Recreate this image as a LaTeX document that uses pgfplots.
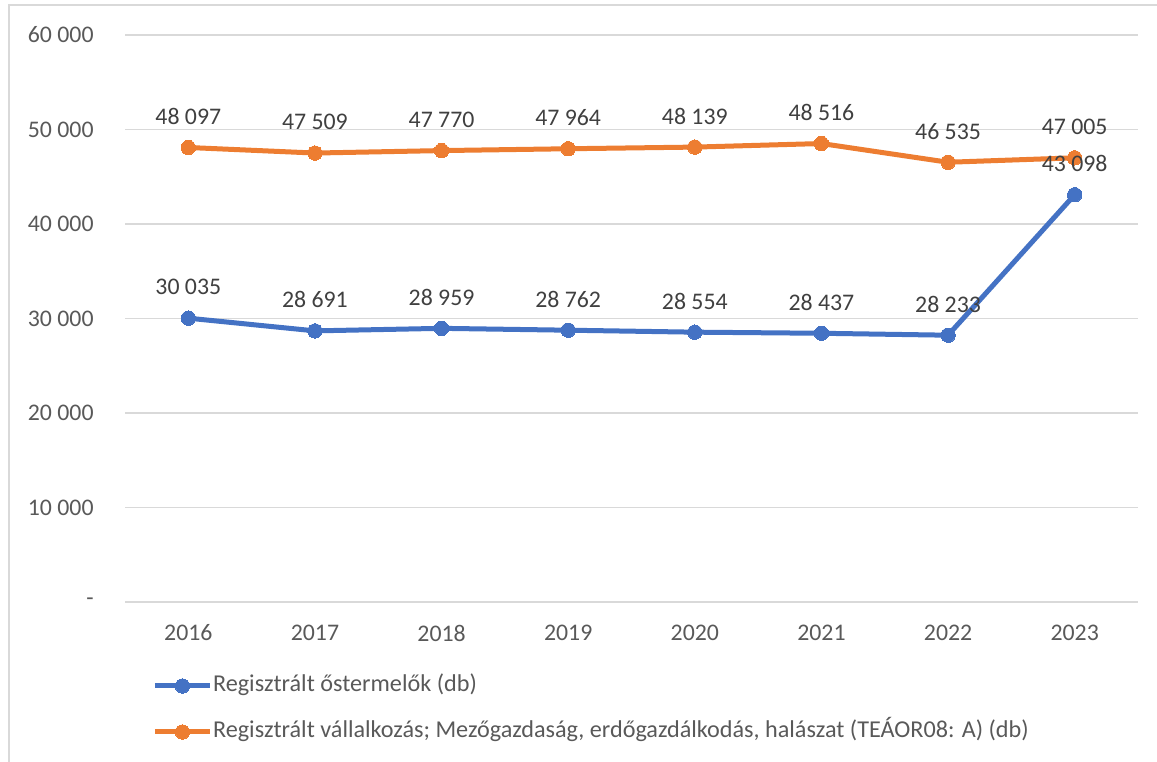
\documentclass[border=0pt]{standalone}
\usepackage{fontspec}
\setmainfont{Carlito}
\usepackage{pgfplots}
\usepackage{pgfplotstable}
\pgfplotsset{compat=1.18}
\definecolor{serblue}{HTML}{4472C4}
\definecolor{serorange}{HTML}{ED7D31}
\definecolor{gridgray}{HTML}{D9D9D9}
\definecolor{labgray}{HTML}{595959}
\definecolor{datgray}{HTML}{404040}

% year index, registered primary producers, registered agricultural enterprises
\pgfplotstableread{
x ost vall
0 30035 48097
1 28691 47509
2 28959 47770
3 28762 47964
4 28554 48139
5 28437 48516
6 28233 46535
7 43098 47005
}\data

\newcommand{\chartfont}{\fontsize{11.9}{14.3}\selectfont}
\newcommand{\legfont}{\fontsize{12.1}{14.5}\selectfont}

\begin{document}
\begin{tikzpicture}
\useasboundingbox (0,0) rectangle (578.5pt,380.5pt);
\draw[gridgray, line width=0.75pt] (4.5pt,-10pt) -- (4.5pt,378pt) -- (600pt,378pt);
\begin{axis}[
    at={(62.5pt,79.5pt)}, anchor=south west,
    scale only axis, width=506.5pt, height=283.5pt,
    xmin=-0.5, xmax=7.5, ymin=0, ymax=60000,
    xtick={0,...,7}, xticklabels={2016,2017,2018,2019,2020,2021,2022,2023},
    ytick={0,10000,...,60000},
    yticklabels={{-\hspace{5pt}},{10 000},{20 000},{30 000},{40 000},{50 000},{60 000}},
    scaled y ticks=false,
    axis line style={draw=none},
    major tick length=0pt,
    ymajorgrids, grid style={gridgray, line width=0.75pt},
    tick label style={font=\chartfont, text=labgray, inner sep=0pt},
    xticklabel style={anchor=center, yshift=-15.5pt},
    yticklabel style={anchor=east, xshift=-15.5pt},
    /pgf/number format/assume math mode=true,
    clip=false,
    nodes near coords={\pgfmathprintnumber[fixed, precision=0, 1000 sep={\space}]{\pgfplotspointmeta}},
    every node near coord/.append style={anchor=center, yshift=15.5pt, font=\chartfont, text=datgray},
    reverse legend,
    legend cell align=left,
    legend image code/.code={\draw[mark repeat=2, mark phase=2, #1] plot coordinates {(0pt,0pt) (13.75pt,0pt) (27.5pt,0pt)};},
    legend style={draw=none, fill=none, at={(0.0267,-0.1887)}, anchor=west,
        font=\legfont, text=labgray, inner sep=0pt, row sep=12.5pt,
        nodes={inner sep=0pt, inner xsep=0.3pt, text height=8pt, text depth=2.5pt}},
]
\addplot[serorange, line width=2.5pt, mark=*, mark size=3.6pt,
    mark options={line width=0pt, fill=serorange}, point meta=explicit]
    table[x=x, y=vall, meta=vall]{\data};
\addlegendentry{Regisztrált vállalkozás; Mezőgazdaság, erdőgazdálkodás, halászat (TEÁOR08: A) (db)}
\addplot[serblue, line width=2.5pt, mark=*, mark size=3.6pt,
    mark options={line width=0pt, fill=serblue}, point meta=explicit]
    table[x=x, y=ost, meta=ost]{\data};
\addlegendentry{Regisztrált őstermelők (db)}
\end{axis}
\end{tikzpicture}
\end{document}
